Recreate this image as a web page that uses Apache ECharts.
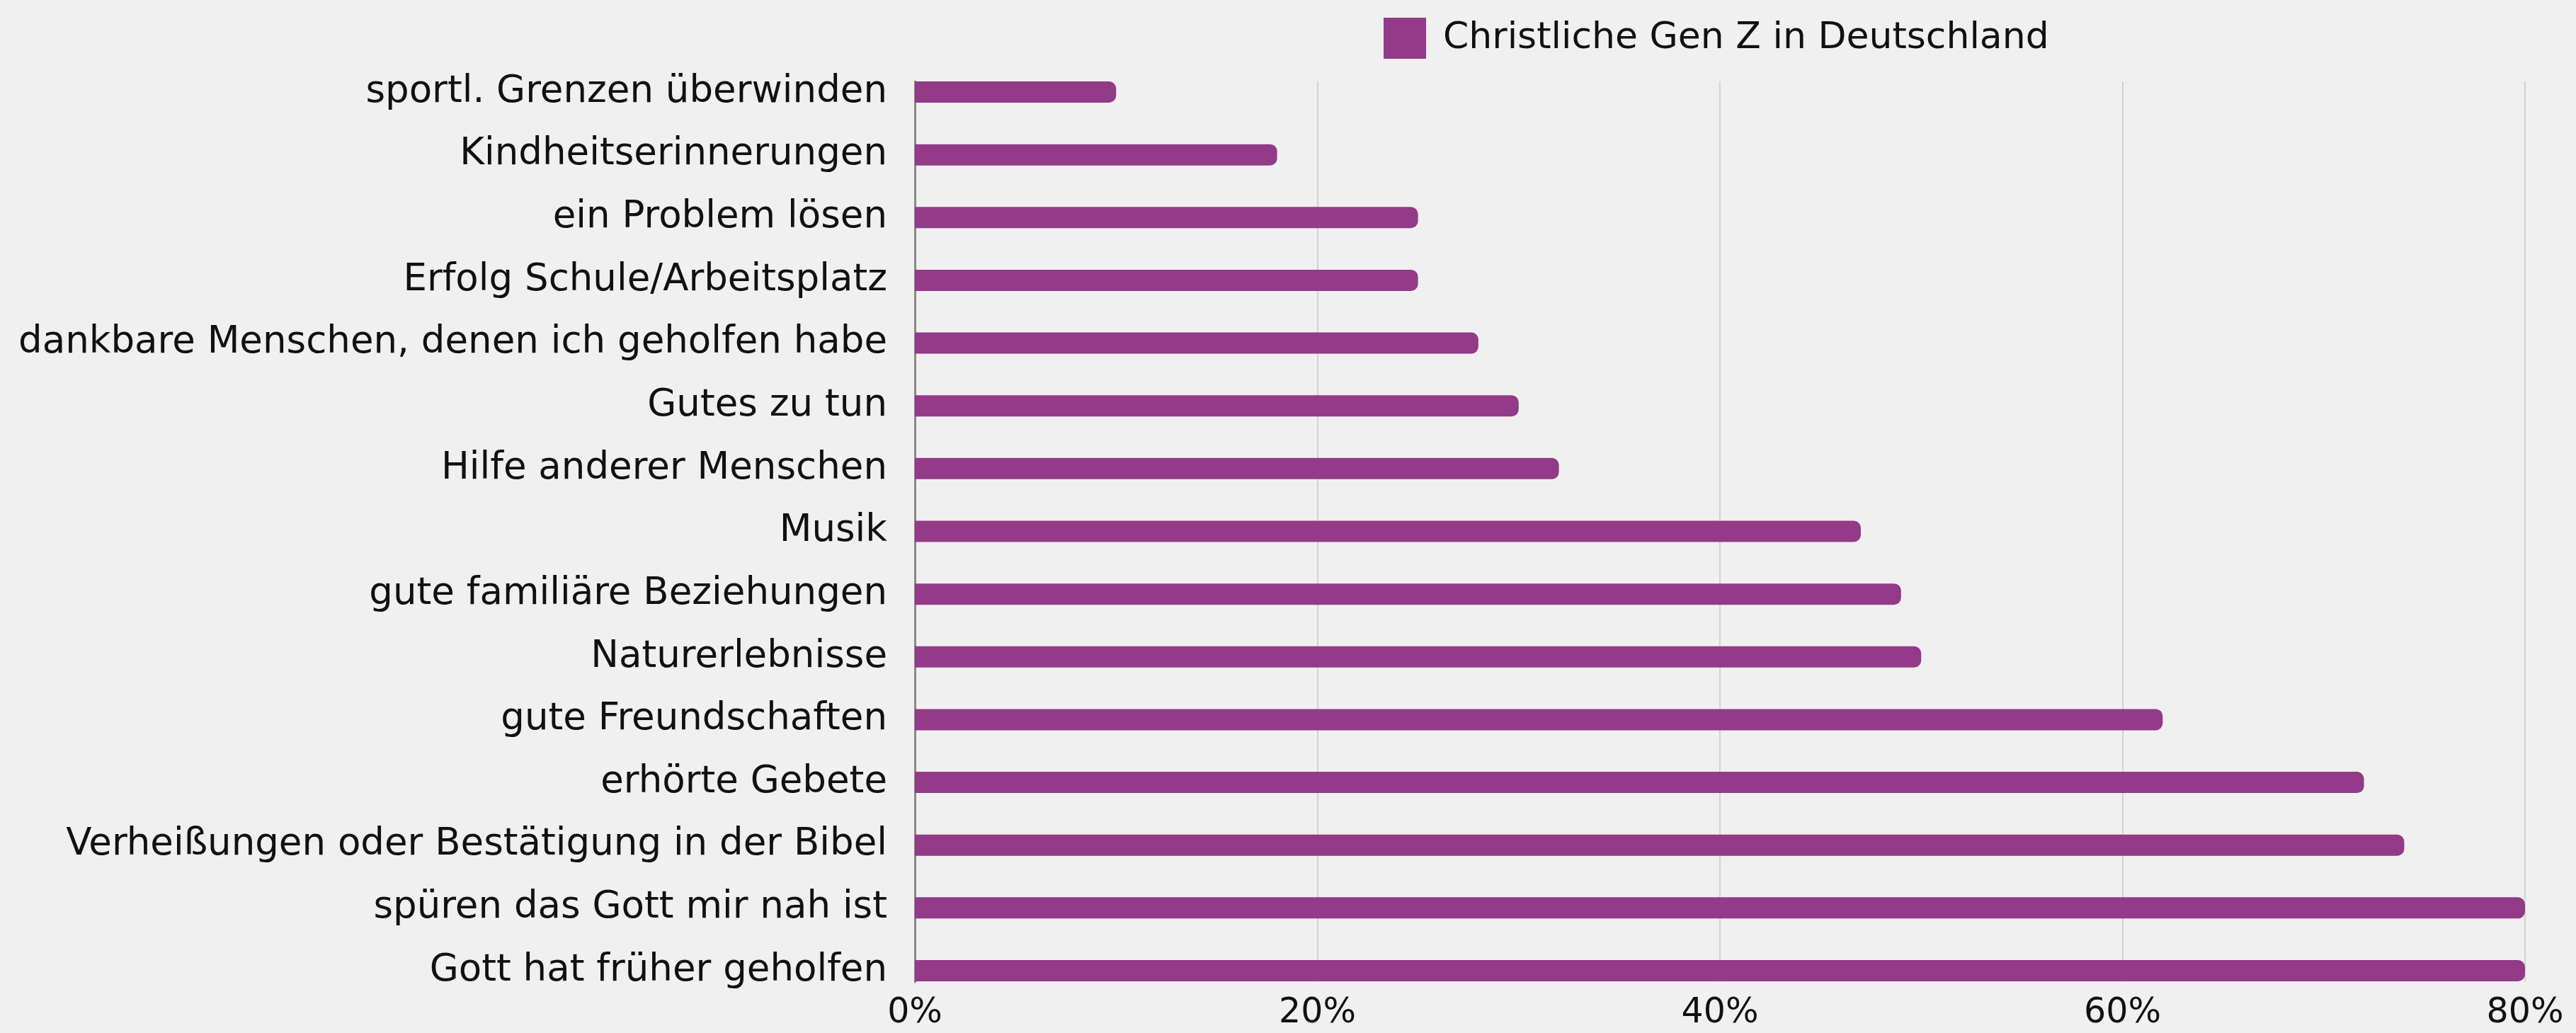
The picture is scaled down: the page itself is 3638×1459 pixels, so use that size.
<!DOCTYPE html>
<html>
<head>
<meta charset="utf-8">
<script src="https://cdn.jsdelivr.net/npm/echarts@6/dist/echarts.min.js"></script>
<style>
html,body{margin:0;padding:0;background:#f0f0f0;}
#c{width:3638px;height:1459px;}
</style>
</head>
<body>
<div id="c"></div>
<script>
const categories = [
  "sportl. Grenzen überwinden",
  "Kindheitserinnerungen",
  "ein Problem lösen",
  "Erfolg Schule/Arbeitsplatz",
  "dankbare Menschen, denen ich geholfen habe",
  "Gutes zu tun",
  "Hilfe anderer Menschen",
  "Musik",
  "gute familiäre Beziehungen",
  "Naturerlebnisse",
  "gute Freundschaften",
  "erhörte Gebete",
  "Verheißungen oder Bestätigung in der Bibel",
  "spüren das Gott mir nah ist",
  "Gott hat früher geholfen"
];
const seriesName = "Christliche Gen Z in Deutschland";
const values = [10, 18, 25, 25, 28, 30, 32, 47, 49, 50, 62, 72, 74, 80, 80];
const xTicks = [0, 20, 40, 60, 80];

const FONT = "DejaVu Sans";
const chart = echarts.init(document.getElementById('c'), null, {renderer: 'canvas'});
chart.setOption({
  backgroundColor: '#f0f0f0',
  animation: false,
  textStyle: {fontFamily: FONT},
  legend: {
    data: [seriesName],
    left: 1949,
    top: 20,
    itemWidth: 60,
    itemHeight: 58,
    icon: 'rect',
    textStyle: {fontFamily: FONT, fontSize: 52, color: '#111', padding: [0, 0, 0, 19]}
  },
  grid: [
    {left: 1292, right: 72, top: 130, bottom: 1459 - 1371, containLabel: false},
    {left: 1292, right: 72, top: 115, bottom: 1459 - 1387, containLabel: false}
  ],
  xAxis: [
    {
      type: 'value', gridIndex: 0, min: xTicks[0], max: xTicks[xTicks.length - 1], interval: 20,
      axisLine: {show: false}, axisTick: {show: false}, splitLine: {show: false},
      axisLabel: {show: false}
    },
    {
      type: 'value', gridIndex: 1, min: xTicks[0], max: xTicks[xTicks.length - 1], interval: 20,
      axisLine: {show: false}, axisTick: {show: false},
      splitLine: {show: true, lineStyle: {color: '#d3d3d3', width: 2}},
      axisLabel: {
        show: true, fontFamily: FONT, fontSize: 49, color: '#111', margin: 20,
        formatter: v => v + '%'
      }
    }
  ],
  yAxis: [
    {
      type: 'category', gridIndex: 0, data: categories, inverse: true, boundaryGap: false,
      axisLine: {show: false}, axisTick: {show: false}, splitLine: {show: false},
      axisLabel: {fontFamily: FONT, fontSize: 53, color: '#111', margin: 39}
    },
    {
      type: 'category', gridIndex: 1, data: categories, inverse: true,
      axisLine: {show: true, lineStyle: {color: '#8a8a8a', width: 3}},
      axisTick: {show: false}, splitLine: {show: false}, axisLabel: {show: false}
    }
  ],
  series: [
    {
      name: seriesName, type: 'bar', xAxisIndex: 0, yAxisIndex: 0,
      data: values, barWidth: 30,
      itemStyle: {color: '#933a89', borderRadius: [0, 10, 10, 0]}
    }
  ]
});
</script>
</body>
</html>
